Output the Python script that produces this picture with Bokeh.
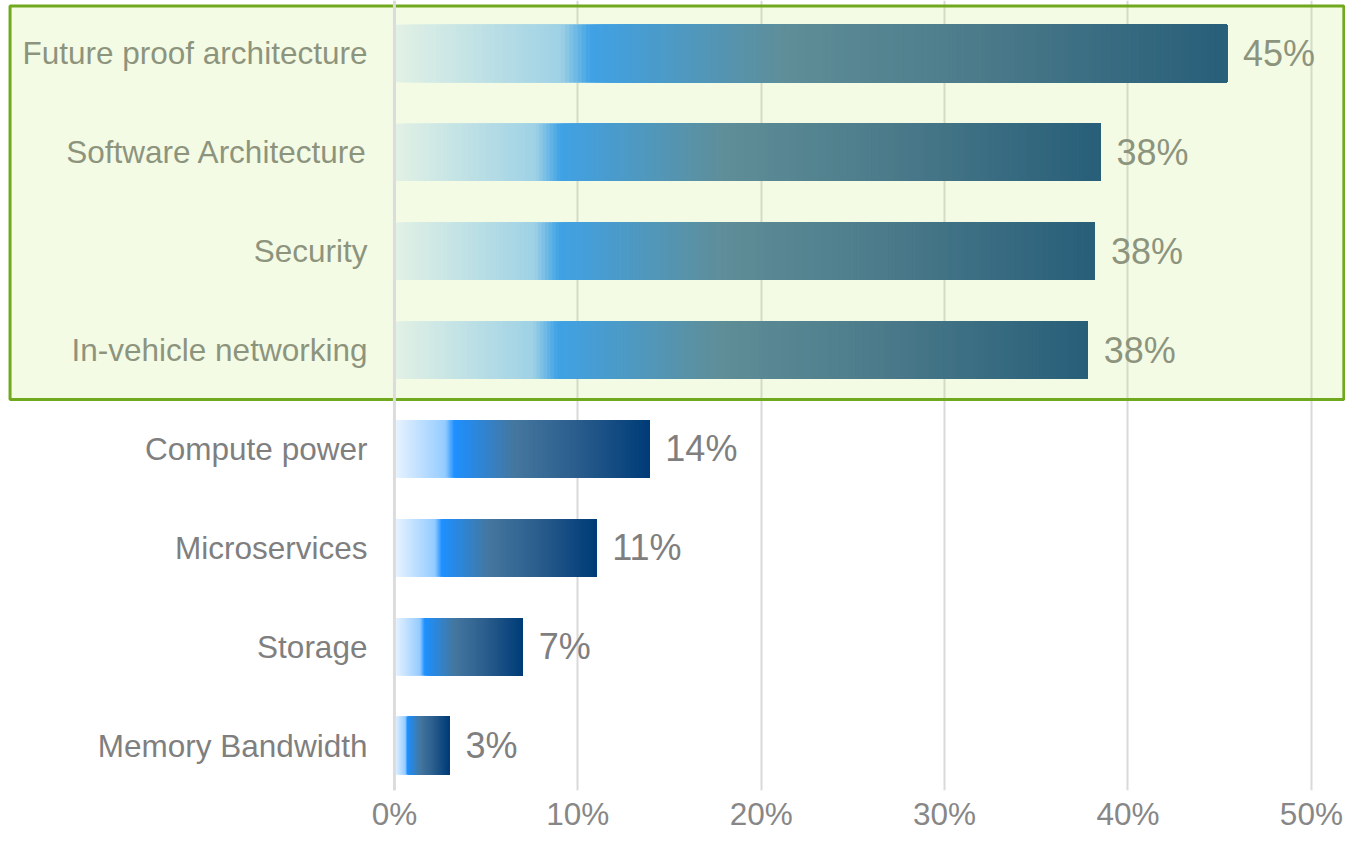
from bokeh.plotting import figure
from bokeh.models import ColumnDataSource, FixedTicker, Span, CustomJSTickFormatter
from bokeh.core.properties import value
from bokeh.embed import file_html
from bokeh.resources import INLINE

# ---- data (top to bottom) ----
categories = ["Future proof architecture", "Software Architecture", "Security",
              "In-vehicle networking", "Compute power", "Microservices",
              "Storage", "Memory Bandwidth"]
values = [45.4, 38.5, 38.2, 37.8, 13.9, 11.0, 7.0, 3.0]
value_labels = ["45%", "38%", "38%", "38%", "14%", "11%", "7%", "3%"]
x_ticks = [0, 10, 20, 30, 40, 50]
highlighted = 4  # number of top categories inside the green box

# ---- styling ----
FONT = "Liberation Sans"
GRAY = "#7F7F7F"
grad_stops = [(0.00, (234, 244, 255)), (0.20, (148, 203, 255)), (0.235, (30, 144, 255)),
              (0.47, (69, 119, 159)), (0.70, (45, 95, 142)), (1.00, (0, 60, 120))]
N_SLICES = 200
BAR_H = 0.58

n = len(categories)
ypos = [n - 1 - i for i in range(n)]  # top category highest

X0, X1 = -21.48, 51.86
Y0, Y1 = -0.455, n - 0.464

p = figure(frame_width=1345, frame_height=790, x_range=(X0, X1), y_range=(Y0, Y1),
           output_backend="svg", toolbar_location=None, y_axis_location=None,
           min_border=0, background_fill_color="white")
p.outline_line_color = None
p.ygrid.visible = False
p.xgrid.ticker = FixedTicker(ticks=x_ticks)
p.xgrid.grid_line_color = "#D9D9D9"
p.xgrid.grid_line_width = 2
p.xaxis.ticker = FixedTicker(ticks=x_ticks)
p.xaxis.formatter = CustomJSTickFormatter(code="return tick.toFixed(0) + '%';")
p.xaxis.axis_line_color = None
p.xaxis.major_tick_line_color = None
p.xaxis.minor_tick_line_color = None
p.xaxis.major_tick_out = 0
p.xaxis.major_tick_in = 0
p.xaxis.minor_tick_out = 0
p.xaxis.major_label_text_font = FONT
p.xaxis.major_label_text_font_size = "31.5px"
p.xaxis.major_label_text_color = "#878787"
p.xaxis.major_label_standoff = 5

p.add_layout(Span(location=0, dimension="height", line_color="#DCDCDC", line_width=3))


def grad_color(t):
    for (t0, c0), (t1, c1) in zip(grad_stops[:-1], grad_stops[1:]):
        if t <= t1:
            f = 0 if t1 == t0 else (t - t0) / (t1 - t0)
            return "#%02x%02x%02x" % tuple(int(round(a + (b - a) * f)) for a, b in zip(c0, c1))
    return "#%02x%02x%02x" % grad_stops[-1][1]


# gradient bars: stacked slices, each running to the bar end (no seams)
lefts, rights, bots, tops, cols = [], [], [], [], []
for y, v in zip(ypos, values):
    for k in range(N_SLICES):
        t = k / N_SLICES
        lefts.append(v * t)
        rights.append(v)
        bots.append(y - BAR_H / 2)
        tops.append(y + BAR_H / 2)
        cols.append(grad_color((k + 0.5) / N_SLICES))
p.quad(left=lefts, right=rights, bottom=bots, top=tops, fill_color=cols, line_color=None)

# category labels
src = ColumnDataSource(dict(y=ypos, v=values, cat=categories, lab=value_labels,
                            x0=[0] * n))
p.text(x="x0", y="y", text="cat", source=src, x_offset=-27, text_align="right",
       text_baseline="middle", text_font=value(FONT), text_font_size="31.5px",
       text_color=GRAY)
# value labels
p.text(x="v", y="y", text="lab", source=src, x_offset=16, text_align="left",
       text_baseline="middle", text_font=value(FONT), text_font_size="36px",
       text_color=GRAY)

# highlight box over top categories
box_bottom = n - highlighted - 0.5
p.quad(left=[X0 + 0.52], right=[X1 - 0.09], bottom=[box_bottom], top=[Y1 - 0.056],
       fill_color=(200, 235, 125), fill_alpha=0.2,
       line_color="#70A81E", line_width=3)

open("out.html", "w").write(file_html(p, INLINE))
